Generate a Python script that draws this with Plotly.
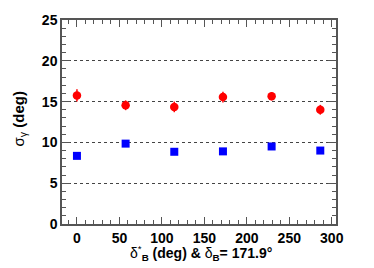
import plotly.graph_objects as go

delta_star = [0, 57.3, 114.6, 171.9, 229.2, 286.5]
sigma_red = [15.75, 14.55, 14.35, 15.55, 15.65, 14.0]
err_red = [0.75, 0.6, 0.65, 0.65, 0.5, 0.6]
sigma_blue = [8.35, 9.85, 8.85, 8.9, 9.5, 9.0]
err_blue = [0.25, 0.3, 0.25, 0.25, 0.3, 0.25]

fig = go.Figure()
fig.add_trace(go.Scatter(x=delta_star, y=sigma_red, mode="markers",
                         marker=dict(symbol="circle", size=8.5, color="#ff0000"),
                         error_y=dict(type="data", array=err_red, color="#ff0000", thickness=1.5, width=0),
                         showlegend=False))
fig.add_trace(go.Scatter(x=delta_star, y=sigma_blue, mode="markers",
                         marker=dict(symbol="square", size=8, color="#0000ff"),
                         error_y=dict(type="data", array=err_blue, color="#0000ff", thickness=1.5, width=0),
                         showlegend=False))

tickfont = dict(family="Liberation Sans, Arial", size=14, color="black", weight="bold")
fig.update_layout(
    width=374, height=268,
    margin=dict(l=62, r=38, t=13, b=44),
    paper_bgcolor="white", plot_bgcolor="white",
    xaxis=dict(range=[-17.6, 305], tickvals=[0, 50, 100, 150, 200, 250, 300],
               ticks="inside", ticklen=7, tickwidth=1, tickcolor="#555",
               minor=dict(dtick=10, ticks="inside", ticklen=4, tickcolor="#555"),
               showline=True, linecolor="#555", linewidth=1.5, mirror="allticks",
               showgrid=False, zeroline=False, tickfont=tickfont),
    yaxis=dict(range=[0, 25], tickvals=[0, 5, 10, 15, 20, 25],
               ticks="inside", ticklen=8, tickwidth=1, tickcolor="#555",
               minor=dict(dtick=1, ticks="inside", ticklen=4, tickcolor="#555", showgrid=False),
               showline=True, linecolor="#555", linewidth=1.5, mirror="allticks",
               showgrid=True, gridcolor="#444", griddash="dot", gridwidth=1,
               zeroline=False, tickfont=tickfont),
    annotations=[
        dict(text="δ<sup>*</sup><sub><b>B</b></sub> <b>(deg) &amp;</b> δ<sub><b>B</b></sub><b>= 171.9°</b>",
             xref="paper", yref="paper", x=0.775, y=-0.14, xanchor="right", yanchor="middle",
             showarrow=False, font=dict(family="Liberation Sans, Arial", size=14, color="black")),
        dict(text="σ<sub>γ</sub> <b>(deg)</b>",
             xref="paper", yref="paper", x=-0.155, y=0.515, xanchor="center", yanchor="middle",
             textangle=-90, showarrow=False,
             font=dict(family="Liberation Sans, Arial", size=15, color="black")),
    ],
)
fig.write_html("out.html", config={"displayModeBar": False},
               post_script="document.body.style.margin='0';document.body.style.padding='0';")
